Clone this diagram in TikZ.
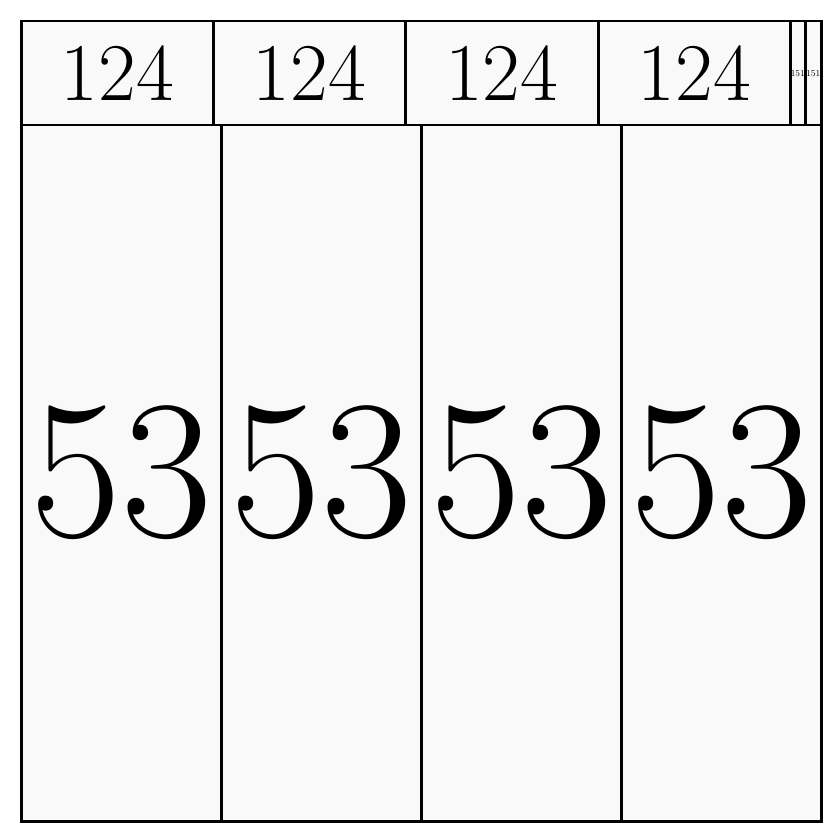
\documentclass[tikz,border=0pt]{standalone}
\usepackage{tikz}

\begin{document}
\begin{tikzpicture}[
    x=1pt,
    y=-1pt,
    line width=2.5pt,
    cell/.style={
        draw,
        rectangle,
        fill=gray!5,
        anchor=north west,
        inner sep=0pt,
        align=center
    },
    topcell/.style={
        cell,
        minimum height=104pt,
        font=\fontsize{82}{82}\selectfont
    },
    smallcell/.style={
        topcell,
        font=\fontsize{9}{9}\selectfont
    },
    bigcell/.style={
        cell,
        minimum height=696pt,
        minimum width=200pt,
        font=\fontsize{198}{198}\selectfont
    }
]
    \useasboundingbox (0,0) rectangle (840,840);

    % Top row
    \node[topcell, minimum width=192pt] (a1) at (20,20) {124};
    \node[topcell, minimum width=192pt] (a2) at (212,20) {124};
    \node[topcell, minimum width=193pt] (a3) at (404,20) {124};
    \node[topcell, minimum width=192pt] (a4) at (597,20) {124};
    \node[smallcell, minimum width=15pt] (a5) at (789,20) {151};
    \node[smallcell, minimum width=16pt] (a6) at (804,20) {151};

    % Bottom row
    \node[bigcell] (b1) at (20,124) {\raisebox{4pt}{53}};
    \node[bigcell] (b2) at (220,124) {\raisebox{4pt}{53}};
    \node[bigcell] (b3) at (420,124) {\raisebox{4pt}{53}};
    \node[bigcell] (b4) at (620,124) {\raisebox{4pt}{53}};

\end{tikzpicture}
\end{document}
